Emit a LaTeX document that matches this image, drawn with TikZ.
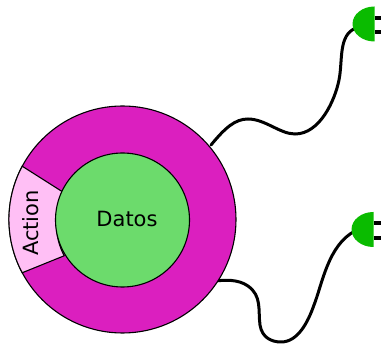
\documentclass[tikz,border=0pt]{standalone}
\usepackage{fontspec}
\setmainfont{DejaVu Sans}
\definecolor{ringc}{HTML}{DB1FBF}
\definecolor{corec}{HTML}{6CDB6C}
\definecolor{wedgec}{HTML}{FFBFF5}
\definecolor{plugc}{HTML}{0ABB00}
\tikzset{
  px/.style={x=1pt,y=-1pt},
  edgeline/.style={draw=black,line width=1.1pt},
  cable/.style={draw=black,line width=3pt,line cap=round},
  prong/.style={draw=black,line width=4.5pt},
  disc/.style={circle,inner sep=0pt,outer sep=0pt,edgeline},
  plugbody/.style={fill=plugc},
  lbl/.style={font=\fontsize{21}{24}\selectfont,inner sep=0pt}
}
\begin{document}
\begin{tikzpicture}[px]
\useasboundingbox (0,0) rectangle (381,344);
% cables
\coordinate (c1s) at (211,145);
\coordinate (c1e) at (356,28);
\coordinate (c2s) at (215,281);
\coordinate (c2e) at (355,231);
\draw[cable] (c1s) .. controls (225,128) and (235,119) .. (248,119)
  .. controls (265,119) and (280,134) .. (295,134)
  .. controls (320,134) and (335,100) .. (339,80)
  .. controls (343,60) and (338,35) .. (c1e);
\draw[cable] (c2s) .. controls (225,280) and (238,279) .. (248,286)
  .. controls (262,296) and (258,310) .. (260,325)
  .. controls (262,338) and (272,342) .. (281,342)
  .. controls (298,342) and (308,322) .. (314,305)
  .. controls (322,285) and (328,245) .. (c2e);
% prongs
\coordinate (p1a) at (381,18);
\coordinate (p1b) at (381,32);
\coordinate (p2a) at (381,223);
\coordinate (p2b) at (381,238);
\coordinate (p1c) at (374.5,24);
\coordinate (p2c) at (373.5,229.5);
\draw[prong] (p1c |- p1a) -- (p1a);
\draw[prong] (p1c |- p1b) -- (p1b);
\draw[prong] (p2c |- p2a) -- (p2a);
\draw[prong] (p2c |- p2b) -- (p2b);
% plug bodies
\fill[plugbody] (p1c) ++(0,-17.5) arc[start angle=-90,end angle=-270,x radius=22,y radius=17.5] -- cycle;
\fill[plugbody] (p2c) ++(0,-17.5) arc[start angle=-90,end angle=-270,x radius=22,y radius=17.5] -- cycle;
% ring
\node[disc,fill=ringc,minimum size=227pt] (outer) at (122.5,219.5) {};
% wedge
\coordinate (ctr) at (122.5,219.5);
\filldraw[edgeline,fill=wedgec] (ctr) ++(152:-0pt) ++(-100.3,-53.3) arc[start angle=208,end angle=152,radius=113.5]
  -- ++(42,-17) arc[start angle=152,end angle=208,radius=67] -- cycle;
\node[disc,fill=corec,minimum size=134pt] (inner) at (122.5,220) {};
\node[lbl] (datos) at (127,219) {Datos};
\node[lbl,rotate=90] (action) at (31,223) {Action};
\end{tikzpicture}
\end{document}
